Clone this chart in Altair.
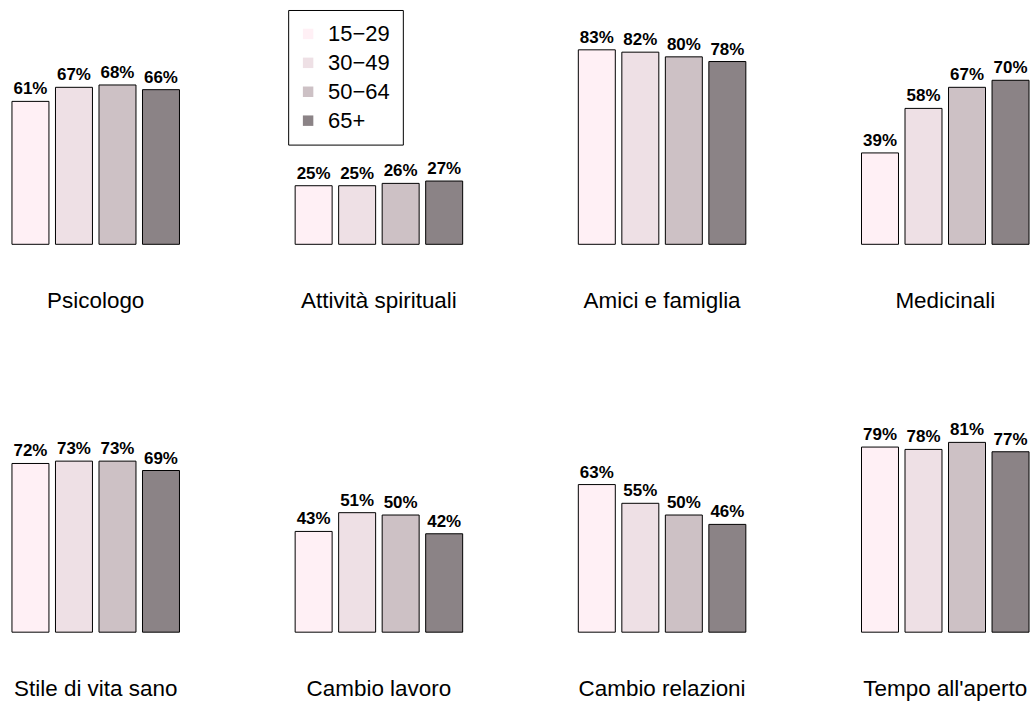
import altair as alt
import pandas as pd

categories = ["Psicologo", "Attività spirituali", "Amici e famiglia", "Medicinali",
              "Stile di vita sano", "Cambio lavoro", "Cambio relazioni", "Tempo all'aperto"]
ages = ["15−29", "30−49", "50−64", "65+"]
colors = ["#FFF0F5", "#EEE0E5", "#CDC1C5", "#8B8386"]

v_15_29 = [61, 25, 83, 39, 72, 43, 63, 79]
v_30_49 = [67, 25, 82, 58, 73, 51, 55, 78]
v_50_64 = [68, 26, 80, 67, 73, 50, 50, 81]
v_65 = [66, 27, 78, 70, 69, 42, 46, 77]

rows = []
for series, age in zip([v_15_29, v_30_49, v_50_64, v_65], ages):
    for cat, val in zip(categories, series):
        rows.append({"categoria": cat, "eta": age, "valore": val})
df = pd.DataFrame(rows)

FONT = "Liberation Sans"

base = alt.Chart(df).transform_calculate(
    etichetta="datum.valore + '%'"
).encode(
    x=alt.X("eta:N", sort=ages, axis=None,
            scale=alt.Scale(paddingInner=0.15, paddingOuter=0)),
    y=alt.Y("valore:Q", axis=None, scale=alt.Scale(domain=[0, 100])),
)

bars = base.mark_bar(stroke="black", strokeWidth=1).encode(
    color=alt.Color("eta:N", sort=ages,
                    scale=alt.Scale(domain=ages, range=colors),
                    legend=alt.Legend(
                        title=None, orient="none", legendX=277, legendY=0,
                        strokeColor="black", fillColor="white", padding=13,
                        symbolType="square", symbolSize=110, symbolStrokeWidth=0,
                        symbolOffset=-4,
                        labelFontSize=22, labelFont=FONT, labelOffset=9,
                        rowPadding=7, labelColor="black"))
)

text = base.mark_text(baseline="alphabetic", dy=-7, fontSize=17,
                      fontWeight="bold", font=FONT, color="black").encode(
    text="etichetta:N"
)

chart = alt.layer(bars, text).properties(width=168, height=235).facet(
    facet=alt.Facet("categoria:N", sort=categories,
                    header=alt.Header(title=None, labelOrient="bottom",
                                      labelFontSize=22.5, labelFont=FONT,
                                      labelColor="black", labelPadding=45)),
    columns=4,
    spacing={"row": 154, "column": 116},
).properties(
    bounds="flush",
    padding={"left": 11, "top": 8, "right": 5, "bottom": 2},
).configure(font=FONT).configure_view(strokeWidth=0, stroke=None)

chart.save("out.html", embed_options={"renderer": "svg", "actions": False})
